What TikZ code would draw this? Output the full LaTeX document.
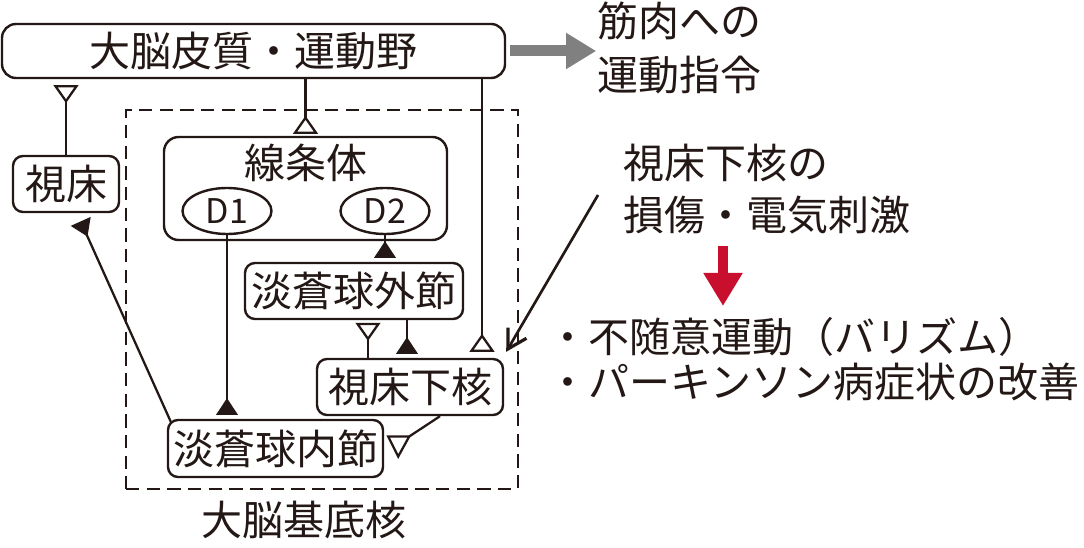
\documentclass[tikz,border=0pt]{standalone}
\usepackage{fontspec}
\setmainfont{Noto Sans CJK JP}
\usetikzlibrary{arrows.meta,shapes.geometric,calc}
\definecolor{ink}{RGB}{35,24,21}
\definecolor{grayarrow}{RGB}{128,128,128}
\definecolor{redarrow}{RGB}{200,16,46}
\begin{document}
\begin{tikzpicture}[x=0.75pt,y=-0.75pt,
  box/.style={draw=ink, text=ink, line width=1.8pt, rounded corners=7.5pt, inner sep=0pt, font=\fontsize{30.75}{36}\selectfont},
  ell/.style={draw=ink, text=ink, line width=1.8pt, ellipse, inner sep=0pt, font=\fontsize{25.5}{28}\selectfont},
  lbl/.style={text=ink, inner sep=0pt, font=\fontsize{30.75}{36}\selectfont},
  conn/.style={draw=ink, line width=1.7pt},
  exc/.style={conn, -{Triangle[reversed, length=13.5pt, width=18.5pt, fill=white]}, shorten >=3pt},
  inh/.style={conn, -{Triangle[reversed, length=12.5pt, width=16pt]}, shorten >=3pt},
]
\useasboundingbox (0,0) rectangle (1084,548);

% basal ganglia frame
\node[draw=ink, line width=1.2pt, dash pattern=on 10pt off 5.5pt, minimum width=294pt, minimum height=284.25pt, inner sep=0pt] (bg) at (322,299.5) {};
\node[lbl] (bgl) at (304,520) {大脳基底核};

% nodes
\node[box, rounded corners=10.5pt, minimum width=377.25pt, minimum height=40.5pt] (cortex) at (253.5,51) {大脳皮質・運動野};
\node[box, minimum width=79.5pt, minimum height=42pt] (thal) at (66,184) {視床};
\node[box, rounded corners=11pt, minimum width=212.25pt, minimum height=77.25pt] (str) at (305.5,188.5) {};
\node[lbl] (strl) at (306,163) {線条体};
\node[ell, minimum width=66.75pt, minimum height=34.5pt] (d1) at (227,211) {D1};
\node[ell, minimum width=66.75pt, minimum height=34.5pt] (d2) at (385,211) {D2};
\node[box, minimum width=163.5pt, minimum height=42pt] (gpe) at (354,291) {淡蒼球外節};
\node[box, minimum width=139.5pt, minimum height=42pt] (stn) at (410,387) {視床下核};
\node[box, minimum width=161.25pt, minimum height=42.75pt] (gpi) at (275.5,448.5) {淡蒼球内節};

% right-hand texts
\node[lbl, anchor=west] (m1) at (597,21) {筋肉への};
\node[lbl, anchor=west] (m2) at (597,75) {運動指令};
\node[lbl, anchor=west] (s1) at (623,163) {視床下核の};
\node[lbl, anchor=west] (s2) at (623,215) {損傷・電気刺激};
\node[lbl, anchor=west] (r1) at (547,337) {・不随意運動（バリズム）};
\node[lbl, anchor=west] (r2) at (547,382) {・パーキンソン病症状の改善};

% big arrows
\draw[grayarrow, line width=8.25pt, -{Triangle[length=22.5pt, width=25.5pt]}] ([xshift=3pt]cortex.east) -- ++(86,0);
\coordinate (ra) at (723,246);
\draw[redarrow, line width=7.5pt, -{Triangle[length=24.75pt, width=27.75pt]}] (ra) -- ++(0,60);
\coordinate (ba) at (598,195);
\draw[conn, line width=2pt, -{Straight Barb[length=14pt, width=16pt, line width=2.4pt]}] (ba) -- ([shift={(2,-6)}]stn.north east);

% connectors
\draw[exc, shorten >=4.5pt] (thal.north) -- (thal.north |- cortex.south);
\draw[exc, shorten >=1.5pt] (cortex.south -| str.north) -- (str.north);
\coordinate (stnT) at ([shift={(72,0)}]stn.north);
\draw[exc, shorten >=4.5pt] (cortex.south -| stnT) -- (stnT);
\draw[inh] (d2.south) -- (d2.south |- gpe.north);
\draw[inh] (d1.south) -- (d1.south |- gpi.north);
\coordinate (stnA) at ([shift={(-42,0)}]stn.north);
\draw[exc, shorten >=2pt] (stnA) -- (stnA |- gpe.south);
\coordinate (stnB) at ([shift={(-3,0)}]stn.north);
\draw[inh] (stnB |- gpe.south) -- (stnB);
\coordinate (thT) at ([shift={(11,0)}]thal.south);
\draw[inh, shorten >=6.75pt] ([shift={(4,3)}]gpi.north west) -- (thT);
\coordinate (gpiT) at ([shift={(25,-12)}]gpi.east);
\draw[conn] ([shift={(30,0)}]stn.south) -- (gpiT);
\draw[conn, fill=white, line join=miter] (gpiT) -- ++(-21,0) -- ++(10,20) -- cycle;
\end{tikzpicture}
\end{document}
